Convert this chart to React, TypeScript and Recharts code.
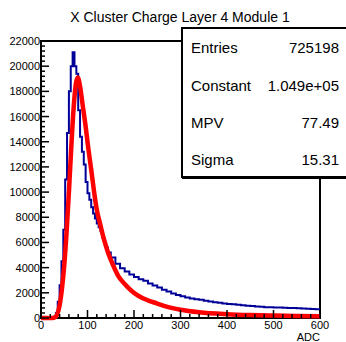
import { LineChart, Line, XAxis, YAxis, ReferenceArea } from "recharts";

const font = "'Liberation Sans', Arial, Helvetica, sans-serif";

const title = "X Cluster Charge Layer 4 Module 1";
const xLabel = "ADC";

// histogram: lower bin edge -> counts
const binEdges = [
  0, 28, 32, 36, 40, 44, 48, 52, 56, 60, 64, 68, 72, 76, 80, 84, 88, 92, 96,
  100, 104, 108, 112, 116, 120, 124, 128, 132, 136, 140, 144, 150, 160, 170,
  180, 190, 200, 210, 220, 230, 240, 250, 260, 270, 280, 290, 300, 310, 320,
  330, 340, 350, 360, 370, 380, 390, 400, 410, 420, 430, 440, 450, 460, 470,
  480, 490, 500, 510, 520, 530, 540, 550, 560, 570, 580, 590, 600,
];
const binCounts = [
  0, 100, 400, 1300, 2600, 4500, 7000, 11000, 14700, 18000, 20000, 21100,
  20000, 19400, 16500, 14400, 13200, 12200, 10800, 9900, 9400, 8800, 8300,
  7900, 7500, 7200, 6900, 6400, 6000, 5600, 5200, 4800, 4300, 3950, 3700,
  3450, 3250, 3080, 2950, 2750, 2580, 2420, 2250, 2100, 1950, 1820, 1720,
  1620, 1550, 1490, 1440, 1380, 1320, 1260, 1210, 1160, 1120, 1090, 1050,
  1010, 980, 950, 920, 890, 860, 850, 840, 830, 820, 800, 790, 780, 760, 740,
  720, 700, 700,
];

// landau fit curve
const fitX = [
  0, 25, 30, 35, 40, 45, 50, 55, 60, 65, 70, 75, 79, 84, 90, 95, 102, 109, 115,
  120, 127, 135, 145, 155, 166, 180, 195, 210, 230, 250, 270, 300, 340, 400,
  450, 500, 550, 600,
];
const fitY = [
  0, 0, 50, 300, 1000, 2300, 4200, 6800, 10000, 13500, 16600, 18600, 19100,
  18400, 16800, 15500, 13400, 11500, 9800, 8600, 7500, 6300, 5100, 4200, 3350,
  2700, 2150, 1750, 1400, 1150, 900, 650, 450, 300, 230, 190, 160, 140,
];

const xMajor = [0, 100, 200, 300, 400, 500, 600];
const yMajor = [0, 2000, 4000, 6000, 8000, 10000, 12000, 14000, 16000, 18000, 20000, 22000];

const statNames = ["Entries", "Constant", "MPV", "Sigma"];
const statValues = ["725198", "1.049e+05", "77.49", "15.31"];

const histData = binEdges.map((x, i) => ({ x, y: binCounts[i] }));
const fitData = fitX.map((x, i) => ({ x, y: fitY[i] }));

const xTicks: number[] = [];
for (let v = 0; v <= 600; v += 20) xTicks.push(v);
const yTicks: number[] = [];
for (let v = 0; v <= 22000; v += 400) yTicks.push(v);

function XTick(props: any) {
  const { x, y, payload } = props;
  const v = payload.value;
  const major = xMajor.includes(v);
  return (
    <g>
      <line x1={x} x2={x} y1={y} y2={y - (major ? 8 : 4)} stroke="#000" strokeWidth={1.5} />
      {major && (
        <text x={x} y={y + 11} textAnchor="middle" fontSize={11} fill="#000" fontFamily={font}>
          {v}
        </text>
      )}
    </g>
  );
}

function YTick(props: any) {
  const { x, y, payload } = props;
  const v = payload.value;
  const major = yMajor.includes(v);
  return (
    <g>
      <line x1={x} x2={x + (major ? 8 : 4)} y1={y} y2={y} stroke="#000" strokeWidth={1.5} />
      {major && (
        <text x={x - 1} y={y + 4} textAnchor="end" fontSize={11} fill="#000" fontFamily={font}>
          {v}
        </text>
      )}
    </g>
  );
}

export default function App() {
  const rowY = [53, 91, 128, 165];
  return (
    <div
      style={{
        position: "absolute",
        left: 0,
        top: 0,
        width: 346,
        height: 342,
        overflow: "hidden",
        background: "#fff",
        fontFamily: font,
      }}
    >
      <LineChart width={346} height={342} margin={{ top: 41, right: 26, bottom: 0, left: 0 }}>
        <XAxis
          type="number"
          dataKey="x"
          domain={[0, 600]}
          ticks={xTicks}
          interval={0}
          tick={(p: any) => <XTick {...p} />}
          tickSize={0}
          tickMargin={0}
          tickLine={false}
          axisLine={false}
          height={24}
        />
        <YAxis
          type="number"
          domain={[0, 22000]}
          ticks={yTicks}
          interval={0}
          tick={(p: any) => <YTick {...p} />}
          tickSize={0}
          tickMargin={0}
          tickLine={false}
          axisLine={false}
          width={41}
        />
        <Line
          data={histData}
          dataKey="y"
          type="stepAfter"
          stroke="#000099"
          strokeWidth={2}
          dot={false}
          isAnimationActive={false}
        />
        <Line
          data={fitData}
          dataKey="y"
          type="monotone"
          stroke="#ff0000"
          strokeWidth={4.5}
          dot={false}
          isAnimationActive={false}
        />
        <ReferenceArea
          x1={0}
          x2={600}
          y1={0}
          y2={22000}
          fill="none"
          stroke="#000"
          strokeWidth={2}
          ifOverflow="visible"
        />
      </LineChart>

      {/* title, stats box, axis title */}
      <svg
        width={346}
        height={342}
        style={{ position: "absolute", left: 0, top: 0, pointerEvents: "none" }}
      >
        <text x={180} y={22} textAnchor="middle" fontSize={14} fill="#000" fontFamily={font}>
          {title}
        </text>
        <rect x={182} y={28} width={170} height={149} fill="#fff" stroke="#000" strokeWidth={2} />
        <rect x={182} y={177} width={170} height={2} fill="#000" />
        {statNames.map((n, i) => (
          <g key={n}>
            <text x={191} y={rowY[i]} fontSize={15} fill="#000" fontFamily={font}>
              {n}
            </text>
            <text x={339} y={rowY[i]} textAnchor="end" fontSize={15} fill="#000" fontFamily={font}>
              {statValues[i]}
            </text>
          </g>
        ))}
        <text x={320} y={341} textAnchor="end" fontSize={11} fill="#000" fontFamily={font}>
          {xLabel}
        </text>
      </svg>
    </div>
  );
}
